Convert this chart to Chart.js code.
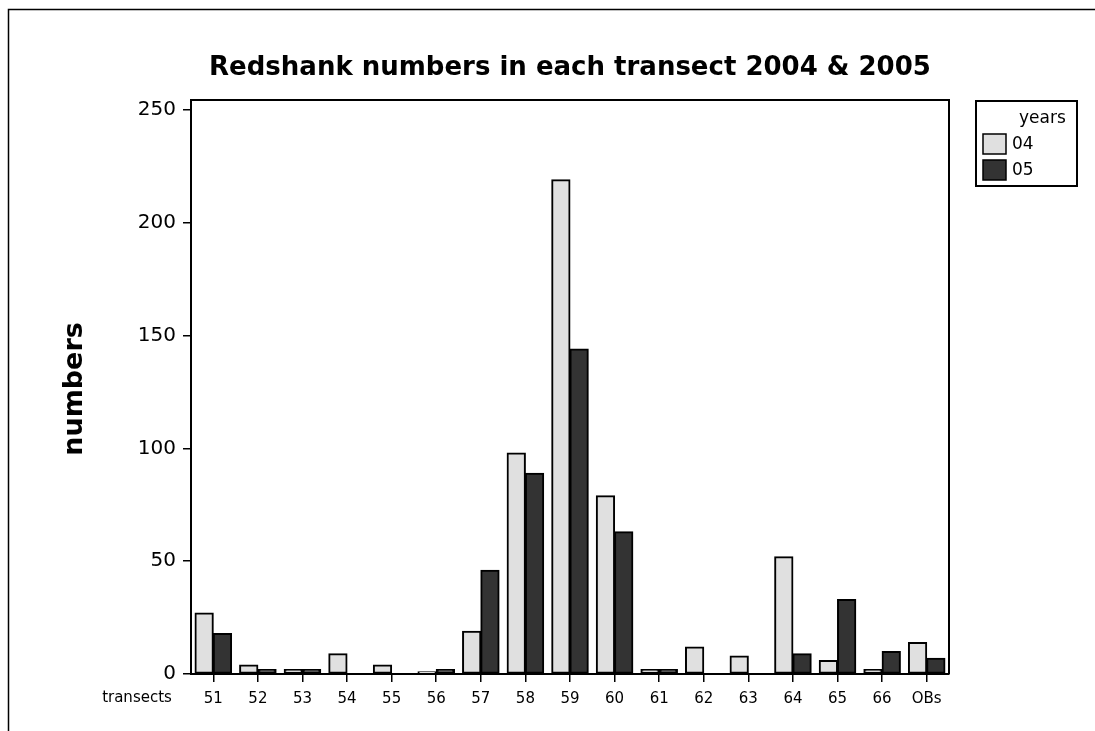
<!DOCTYPE html>
<html>
<head>
<meta charset="utf-8">
<script src="https://cdn.jsdelivr.net/npm/chart.js@4/dist/chart.umd.min.js"></script>
<style>
  html, body { margin: 0; padding: 0; background: #fff; }
  #wrap { width: 1095px; height: 731px; position: relative; }
</style>
</head>
<body>
<div id="wrap"><canvas id="c" width="1095" height="731"></canvas></div>
<script>
// Redshank counts per transect, 2004 and 2005 surveys
const transects = ['51', '52', '53', '54', '55', '56', '57', '58', '59', '60', '61', '62', '63', '64', '65', '66', 'OBs'];
const counts04 = [27, 4, 2, 9, 4, 1, 19, 98, 219, 79, 2, 12, 8, 52, 6, 2, 14];
const counts05 = [18, 2, 2, 0, 0, 2, 46, 89, 144, 63, 2, 0, 0, 9, 33, 10, 7];
const seriesNames = ['04', '05'];
const yTicks = [0, 50, 100, 150, 200, 250];

const chartTitle = 'Redshank numbers in each transect 2004 & 2005';
const yTitle = 'numbers';
const xTitle = 'transects';
const legendTitle = 'years';

const FONT = '"DejaVu Sans", Verdana, sans-serif';

// Title, axis titles, plot frame, page frame and legend box
const decorations = {
  id: 'decorations',
  afterDraw(chart) {
    const { ctx, chartArea: a } = chart;
    ctx.save();
    ctx.strokeStyle = '#000';
    ctx.fillStyle = '#000';

    // page frame (left and top edges)
    ctx.lineWidth = 1.5;
    ctx.beginPath();
    ctx.moveTo(8.5, chart.height);
    ctx.lineTo(8.5, 9.5);
    ctx.lineTo(chart.width, 9.5);
    ctx.stroke();

    // plot frame: top and right edges
    ctx.lineWidth = 2;
    ctx.beginPath();
    ctx.moveTo(a.left, a.top);
    ctx.lineTo(a.right, a.top);
    ctx.lineTo(a.right, a.bottom);
    ctx.stroke();

    // chart title
    ctx.font = 'bold 26px ' + FONT;
    ctx.textAlign = 'center';
    ctx.textBaseline = 'middle';
    ctx.fillText(chartTitle, (a.left + a.right) / 2, 68);

    // y axis title
    ctx.save();
    ctx.translate(75, 389);
    ctx.rotate(-Math.PI / 2);
    ctx.font = 'bold 27px ' + FONT;
    ctx.fillText(yTitle, 0, 0);
    ctx.restore();

    // x axis title
    ctx.font = '15px ' + FONT;
    ctx.textAlign = 'center';
    ctx.fillText(xTitle, 137, 698);

    // legend
    const lx = 976, ly = 101, lw = 101, lh = 85;
    ctx.lineWidth = 2;
    ctx.strokeRect(lx, ly, lw, lh);
    ctx.font = '17px ' + FONT;
    ctx.textAlign = 'left';
    ctx.fillText(legendTitle, 1019, 119);
    chart.data.datasets.forEach((ds, i) => {
      const sy = 134 + i * 26;
      ctx.fillStyle = ds.backgroundColor;
      ctx.fillRect(983, sy, 23, 20);
      ctx.lineWidth = 1.5;
      ctx.strokeRect(983, sy, 23, 20);
      ctx.fillStyle = '#000';
      ctx.fillText(ds.label, 1012, sy + 11);
    });
    ctx.restore();
  }
};

new Chart(document.getElementById('c'), {
  type: 'bar',
  data: {
    labels: transects,
    datasets: [
      { label: seriesNames[0], data: counts04, backgroundColor: '#e0e0e0' },
      { label: seriesNames[1], data: counts05, backgroundColor: '#333333' }
    ]
  },
  options: {
    responsive: false,
    animation: false,
    devicePixelRatio: 1,
    layout: { padding: { top: 100, right: 146, bottom: 0, left: 0 } },
    datasets: {
      bar: {
        categoryPercentage: 0.82,
        barPercentage: 1,
        borderWidth: 2,
        borderColor: '#000',
        borderSkipped: false,
        inflateAmount: 0.5
      }
    },
    plugins: {
      legend: { display: false },
      title: { display: false },
      tooltip: { enabled: false }
    },
    scales: {
      x: {
        grid: {
          display: true, drawOnChartArea: false, drawTicks: true,
          tickLength: 8, color: '#000', lineWidth: 1.5, offset: false
        },
        border: { display: true, color: '#000', width: 2 },
        ticks: { color: '#000', font: { family: FONT, size: 15 }, padding: 8, maxRotation: 0, autoSkip: false },
        afterFit(scale) { scale.height = 57; }
      },
      y: {
        min: 0,
        max: 254.4,
        afterBuildTicks(scale) { scale.ticks = yTicks.map(v => ({ value: v })); },
        grid: {
          display: true, drawOnChartArea: false, drawTicks: true,
          tickLength: 8, color: '#000', lineWidth: 1.5
        },
        border: { display: true, color: '#000', width: 2 },
        ticks: { color: '#000', font: { family: FONT, size: 20 }, padding: 7 },
        afterFit(scale) { scale.width = 191; }
      }
    }
  },
  plugins: [decorations]
});
</script>
</body>
</html>
